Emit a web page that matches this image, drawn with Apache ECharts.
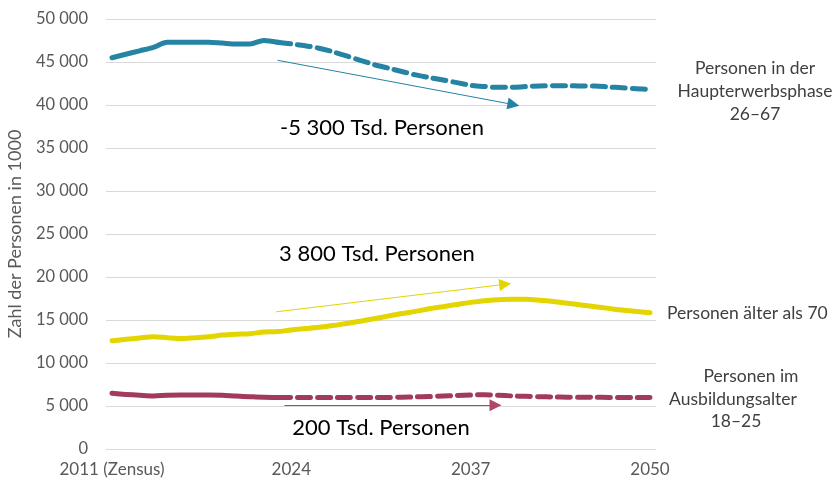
<!DOCTYPE html>
<html>
<head>
<meta charset="utf-8">
<script src="https://cdn.jsdelivr.net/npm/echarts@6/dist/echarts.min.js"></script>
<style>
  html, body { margin: 0; padding: 0; background: #fff; }
  #chart { width: 837px; height: 486px; }
</style>
</head>
<body>
<div id="chart"></div>
<script>
// Jahre 2011 bis 2050
const years = []
for (let y = 2011; y <= 2050; y++) years.push(y)
const splitYear = 2023 // ab hier gestrichelt (Vorausberechnung)
const xTicks = [2011, 2024, 2037, 2050]

// Personen in der Haupterwerbsphase 26–67 (in 1000)
const haupterwerb = [
  45500, 45900, 46300, 46700, 47300, 47300, 47300, 47300, 47200, 47100,
  47100, 47500, 47300, 47100, 46900, 46600, 46200, 45700, 45200, 44700,
  44300, 43900, 43500, 43200, 42900, 42600, 42300, 42150, 42050, 42050,
  42150, 42200, 42250, 42250, 42200, 42200, 42100, 42000, 41900, 41800
]
// Personen älter als 70
const aelter70 = [
  12600, 12750, 12900, 13050, 12950, 12850, 12950, 13050, 13250, 13350,
  13400, 13600, 13650, 13850, 14000, 14150, 14350, 14600, 14850, 15150,
  15450, 15750, 16000, 16300, 16550, 16800, 17050, 17250, 17350, 17400,
  17400, 17300, 17150, 16950, 16750, 16550, 16350, 16150, 16000, 15850
]
// Personen im Ausbildungsalter 18–25
const ausbildung = [
  6480, 6350, 6250, 6170, 6250, 6280, 6280, 6280, 6250, 6150,
  6080, 6020, 6000, 5980, 5980, 5980, 5990, 5990, 6000, 6000,
  6000, 6020, 6060, 6100, 6160, 6230, 6280, 6300, 6250, 6170,
  6120, 6080, 6050, 6030, 6020, 6010, 6000, 6000, 6000, 5990
]

// Pfeile: [Start, Ende] als [Jahr, Wert]
const arrowBlue = [[2023.0, 45200], [2040.1, 40050]]
const arrowYellow = [[2022.9, 15950], [2039.5, 19150]]
const arrowRed = [[2023.5, 5060], [2038.8, 5080]]

const blue = '#2583a3'
const yellow = '#e2d500'
const red = '#a23a60'
const font = 'Lato, "Open Sans", sans-serif'

const pairs = (vals) => years.map((y, i) => [y, vals[i]])
const upTo = (vals) => pairs(vals).filter(p => p[0] <= splitYear)
const from = (vals) => pairs(vals).filter(p => p[0] >= splitYear)

const arrow = (pts, color) => ({
  silent: true,
  animation: false,
  symbol: ['none', 'triangle'],
  symbolSize: 12,
  label: { show: false },
  lineStyle: { type: 'solid', width: 1, color: color },
  data: [[{ coord: pts[0] }, { coord: pts[1] }]]
})

const lineSeries = (name, data, color, dashed, markLine) => ({
  name: name,
  type: 'line',
  data: data,
  showSymbol: false,
  smooth: 0.3,
  lineStyle: {
    color: color,
    width: 5,
    type: dashed ? [13, 7] : 'solid',
    cap: 'round',
    join: 'round'
  },
  markLine: markLine,
  z: 3
})

const fmt = (v) => String(v).replace(/\B(?=(\d{3})+(?!\d))/g, ' ')

const rightText = (text, x, y, align) => ({
  type: 'text', x: x, y: y,
  style: { text: text, textAlign: align || 'center', textVerticalAlign: 'middle', fontSize: 17.5, fontFamily: font, fill: '#404040' }
})
const noteText = (text, x, y) => ({
  type: 'text', x: x, y: y,
  style: { text: text, textAlign: 'center', textVerticalAlign: 'middle', fontSize: 22, fontFamily: font, fill: '#000' }
})

const chart = echarts.init(document.getElementById('chart'))
const option = {
  animation: false,
  backgroundColor: '#fff',
  grid: { left: 106, right: 181, top: 19, bottom: 37, outerBoundsMode: 'none', containLabel: false },
  xAxis: {
    type: 'value',
    min: 2011 - 6 / 13.8,
    max: 2050 + 6 / 13.8,
    axisLine: { show: false },
    axisTick: { show: false },
    splitLine: { show: false },
    axisLabel: {
      customValues: xTicks,
      formatter: (v) => v === 2011 ? '2011 (Zensus)' : String(v),
      color: '#595959',
      fontFamily: font,
      fontSize: 17,
      margin: 12
    }
  },
  yAxis: {
    type: 'value',
    min: 0,
    max: 50000,
    interval: 5000,
    name: 'Zahl der Personen in 1000',
    nameLocation: 'middle',
    nameGap: 82,
    nameTextStyle: { color: '#595959', fontFamily: font, fontSize: 18 },
    axisLine: { show: false },
    axisTick: { show: false },
    splitLine: { lineStyle: { color: '#d9d9d9', width: 1 } },
    axisLabel: {
      formatter: fmt,
      color: '#595959',
      fontFamily: font,
      fontSize: 16.5,
      margin: 18
    }
  },
  series: [
    lineSeries('Haupterwerbsphase', upTo(haupterwerb), blue, false),
    lineSeries('Haupterwerbsphase Vorausberechnung', from(haupterwerb), blue, true, arrow(arrowBlue, blue)),
    lineSeries('älter als 70', pairs(aelter70), yellow, false, arrow(arrowYellow, yellow)),
    lineSeries('Ausbildungsalter', upTo(ausbildung), red, false),
    lineSeries('Ausbildungsalter Vorausberechnung', from(ausbildung), red, true, arrow(arrowRed, '#b0466c'))
  ],
  graphic: [
    noteText('-5 300 Tsd. Personen', 382, 128),
    noteText('3 800 Tsd. Personen', 377, 254),
    noteText('200 Tsd. Personen', 381, 428),
    rightText('Personen in der', 755, 68),
    rightText('Haupterwerbsphase', 755, 91),
    rightText('26–67', 755, 114),
    rightText('Personen älter als 70', 667, 313, 'left'),
    rightText('Personen im', 751, 376),
    rightText('Ausbildungsalter', 733, 399),
    rightText('18–25', 736, 421)
  ]
}
chart.setOption(option)
window.addEventListener('resize', () => {
  chart.resize()
})
</script>
</body>
</html>
